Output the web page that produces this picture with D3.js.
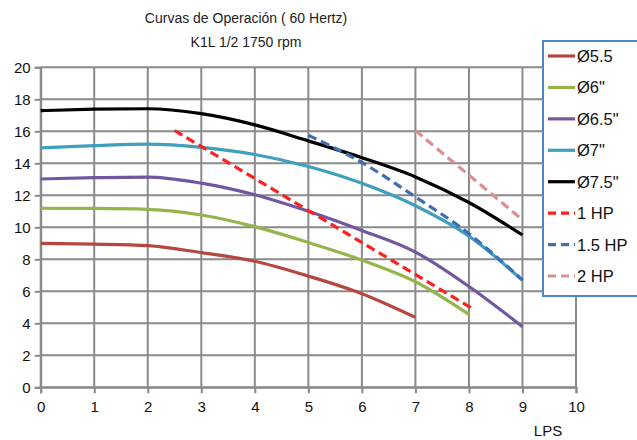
<!DOCTYPE html>
<html><head><meta charset="utf-8">
<script src="https://cdn.jsdelivr.net/npm/d3@7/dist/d3.min.js"></script>
<style>body{margin:0;background:#fff;} text{font-family:"Liberation Sans",Arial,sans-serif;}</style>
</head><body><svg id="c" width="637" height="440"></svg>
<script>
const title1 = "Curvas de Operación ( 60 Hertz)";
const title2 = "K1L 1/2 1750 rpm";
const xLabel = "LPS";
const xTicks = [0,1,2,3,4,5,6,7,8,9,10];
const yTicks = [0,2,4,6,8,10,12,14,16,18,20];

const seriesNames = ["Ø5.5","Ø6\"","Ø6.5\"","Ø7\"","Ø7.5\"","1 HP","1.5 HP","2 HP"];
const seriesColors = ["#b5473f","#93b54a","#7057a0","#3ea0bd","#000000","#ff1f1f","#3e6fb0","#d9908e"];
const seriesDashed = [false,false,false,false,false,true,true,true];

const d55x = [0,1,2,3,4,5,6,7];
const d55y = [9.0,8.95,8.85,8.42,7.88,6.95,5.85,4.37];
const d6x = [0,1,2,3,4,5,6,7,8];
const d6y = [11.19,11.18,11.12,10.77,10.04,9.05,7.95,6.6,4.56];
const d65x = [0,1,2,3,4,5,6,7,8,9];
const d65y = [13.02,13.1,13.14,12.76,12.03,11.0,9.8,8.45,6.3,3.79];
const d7x = [0,1,2,3,4,5,6,7,8,9];
const d7y = [14.96,15.1,15.2,15.0,14.55,13.8,12.75,11.35,9.45,6.69];
const d75x = [0,1,2,3,4,5,6,7,8,9];
const d75y = [17.29,17.38,17.41,17.1,16.4,15.4,14.35,13.15,11.55,9.52];
const hp1x = [2.5,8.05];
const hp1y = [16.05,4.95];
const hp15x = [5.0,6,7,8,8.5,9];
const hp15y = [15.75,14.05,11.9,9.6,8.2,6.7];
const hp2x = [7.0,8.97];
const hp2y = [16.05,10.55];

const seriesX = [d55x,d6x,d65x,d7x,d75x,hp1x,hp15x,hp2x];
const seriesY = [d55y,d6y,d65y,d7y,d75y,hp1y,hp15y,hp2y];

const svg = d3.select("#c");
const x = d3.scaleLinear().domain([0,10]).range([40.7,576]);
const y = d3.scaleLinear().domain([0,20]).range([387.3,67.3]);
const gridColor = "#8a8a8a";

// grid
svg.append("g").selectAll("line").data(xTicks).join("line")
  .attr("x1",d=>x(d)).attr("x2",d=>x(d)).attr("y1",y(0)).attr("y2",y(20)+0)
  .attr("stroke",gridColor).attr("stroke-width",2);
svg.append("g").selectAll("line").data(yTicks).join("line")
  .attr("x1",x(0)).attr("x2",x(10)).attr("y1",d=>y(d)).attr("y2",d=>y(d))
  .attr("stroke",gridColor).attr("stroke-width",2);

// axes
const xAxis = d3.axisBottom(x).tickValues(xTicks).tickSize(6).tickFormat(d3.format("d"));
const gx = svg.append("g").attr("transform",`translate(0,${y(0)})`).call(xAxis);
gx.select(".domain").attr("stroke",gridColor).attr("stroke-width",2);
gx.selectAll(".tick line").attr("stroke",gridColor).attr("stroke-width",2);
gx.selectAll("text").attr("font-size",15).attr("fill","#111").attr("dy","1.05em").attr("font-family","Liberation Sans, Arial, sans-serif");

const yAxis = d3.axisLeft(y).tickValues(yTicks).tickSize(6).tickFormat(d3.format("d"));
const gy = svg.append("g").attr("transform",`translate(${x(0)},0)`).call(yAxis);
gy.select(".domain").attr("stroke",gridColor).attr("stroke-width",2);
gy.selectAll(".tick line").attr("stroke",gridColor).attr("stroke-width",2);
gy.selectAll("text").attr("font-size",15).attr("fill","#111").attr("x",-10).attr("font-family","Liberation Sans, Arial, sans-serif");

// series
const line = d3.line().x(d=>x(d[0])).y(d=>y(d[1])).curve(d3.curveMonotoneX);
seriesNames.forEach((n,i)=>{
  const pts = seriesX[i].map((v,j)=>[v,seriesY[i][j]]);
  svg.append("path").datum(pts).attr("d",line)
    .attr("fill","none").attr("stroke",seriesColors[i])
    .attr("stroke-width",3.2)
    .attr("stroke-dasharray",seriesDashed[i]?"9,5":null);
});

// titles
svg.append("text").attr("x",246).attr("y",23).attr("text-anchor","middle").attr("font-size",14).attr("fill","#222").text(title1);
svg.append("text").attr("x",246).attr("y",47).attr("text-anchor","middle").attr("font-size",14).attr("fill","#222").text(title2);
svg.append("text").attr("x",548).attr("y",436).attr("text-anchor","middle").attr("font-size",15).attr("fill","#111").text(xLabel);

// legend
const lg = svg.append("g");
lg.append("rect").attr("x",543).attr("y",41).attr("width",110).attr("height",255)
  .attr("fill","#fff").attr("stroke","#4f86c6").attr("stroke-width",2);
const legY = d3.scaleLinear().domain([0,7]).range([56,276]);
seriesNames.forEach((n,i)=>{
  const yy = legY(i);
  lg.append("line").attr("x1",548).attr("x2",575).attr("y1",yy).attr("y2",yy)
    .attr("stroke",seriesColors[i]).attr("stroke-width",3.2)
    .attr("stroke-dasharray",seriesDashed[i]?"8,5":null);
  lg.append("text").attr("x",577).attr("y",yy+6).attr("font-size",16.5).attr("fill","#111").text(n);
});
</script></body></html>
